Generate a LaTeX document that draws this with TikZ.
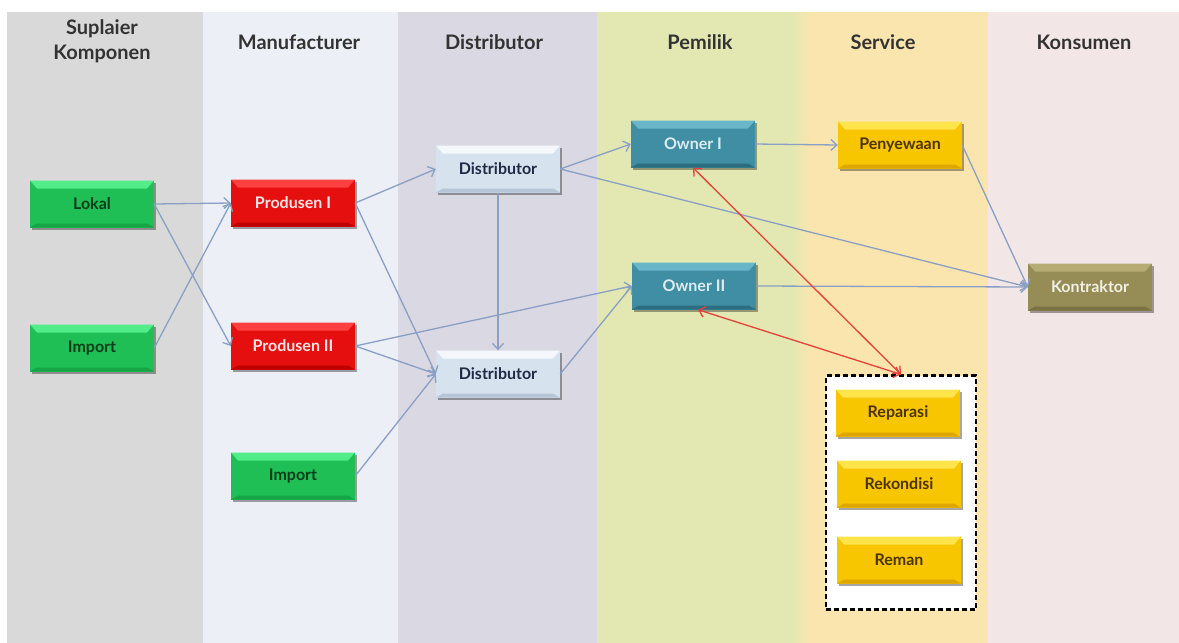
\documentclass[tikz,border=0pt]{standalone}
\usepackage{fontspec}
\setmainfont{Lato}
\usetikzlibrary{arrows.meta,shadows,calc}
\definecolor{colA}{HTML}{D9D9D9}
\definecolor{colB}{HTML}{ECEFF6}
\definecolor{colC}{HTML}{DAD8E2}
\definecolor{colD}{HTML}{E3E8B2}
\definecolor{colE}{HTML}{FBE5AE}
\definecolor{colF}{HTML}{F2E6E6}
\definecolor{hdr}{HTML}{333333}
\definecolor{gM}{HTML}{1FBF55}\definecolor{gT}{HTML}{52EC88}\definecolor{gB}{HTML}{16A447}\definecolor{gX}{HTML}{0B3D1A}
\definecolor{rM}{HTML}{E60F0F}\definecolor{rT}{HTML}{FF4040}\definecolor{rB}{HTML}{BF0000}\definecolor{rX}{HTML}{FFE4E4}
\definecolor{dM}{HTML}{D6E2EE}\definecolor{dT}{HTML}{F4F8FC}\definecolor{dB}{HTML}{B6C6D8}\definecolor{dX}{HTML}{1F2B45}
\definecolor{oM}{HTML}{3F8EA3}\definecolor{oT}{HTML}{6AB6C9}\definecolor{oB}{HTML}{2C6E80}\definecolor{oX}{HTML}{DCECF0}
\definecolor{yM}{HTML}{F7C600}\definecolor{yT}{HTML}{FFE44C}\definecolor{yB}{HTML}{DDA600}\definecolor{yX}{HTML}{4D3300}
\definecolor{kM}{HTML}{958C56}\definecolor{kT}{HTML}{B6AC74}\definecolor{kB}{HTML}{7A7144}\definecolor{kX}{HTML}{F2F0E4}
\definecolor{lineC}{HTML}{8A9FC4}
\definecolor{redC}{HTML}{E5413A}
\tikzset{
  box/.style={minimum width=124pt, minimum height=47pt, inner sep=0pt,
    font=\fontsize{16}{18}\selectfont\bfseries,
    drop shadow={shadow xshift=1.5pt, shadow yshift=-2.5pt, opacity=0.35, fill=black}},
  bevel/.style n args={4}{box, fill=#1, text=#4, path picture={
    \fill[#2] (path picture bounding box.north west) -- (path picture bounding box.north east)
      -- ([shift={(-7pt,-8pt)}]path picture bounding box.north east)
      -- ([shift={(7pt,-8pt)}]path picture bounding box.north west) -- cycle;
    \fill[#3] (path picture bounding box.south west) -- (path picture bounding box.south east)
      -- ([shift={(-7pt,4pt)}]path picture bounding box.south east)
      -- ([shift={(7pt,4pt)}]path picture bounding box.south west) -- cycle;
  }},
  gbox/.style={bevel={gM}{gT}{gB}{gX}},
  rbox/.style={bevel={rM}{rT}{rB}{rX}},
  dbox/.style={bevel={dM}{dT}{dB}{dX}},
  obox/.style={bevel={oM}{oT}{oB}{oX}},
  ybox/.style={bevel={yM}{yT}{yB}{yX}},
  kbox/.style={bevel={kM}{kT}{kB}{kX}},
  header/.style={text=hdr, font=\fontsize{20}{25}\selectfont\bfseries, align=center},
  conn/.style={draw=lineC, line width=1.3pt, -{Straight Barb[length=6pt,width=11pt]}},
  redconn/.style={draw=redC, line width=1.3pt, {Straight Barb[length=6pt,width=11pt]}-{Straight Barb[length=6pt,width=11pt]}},
}
\begin{document}
\begin{tikzpicture}[x=1pt,y=-1pt]
\useasboundingbox (0,0) rectangle (1179,643);
\fill[white] (0,0) rectangle (1179,643);
% columns
\fill[colA] (7,12) rectangle (203,643);
\fill[colB] (203,12) rectangle (398,643);
\fill[colC] (398,12) rectangle (597,643);
\fill[colD] (597,12) rectangle (796,643);
\fill[colE] (796,12) rectangle (988,643);
\shade[left color=colD, right color=colE] (792,12) rectangle (812,643);
\fill[colF] (988,12) rectangle (1179,643);
% headers
\node[header] (h1) at (102,41) {Suplaier\\Komponen};
\node[header] (h2) at (299,42) {Manufacturer};
\node[header] (h3) at (494,42) {Distributor};
\node[header] (h4) at (700,42) {Pemilik};
\node[header] (h5) at (883,42) {Service};
\node[header] (h6) at (1084,42) {Konsumen};
% service group
\node[draw=black, line width=2.2pt, dash pattern=on 5pt off 3pt, fill=white,
      minimum width=150pt, minimum height=234pt, inner sep=0pt] (svc) at (901,492.5) {};
% boxes
\node[gbox] (lokal) at (92,204) {Lokal};
\node[gbox] (imp1) at (92,348) {Import};
\node[rbox] (p1) at (293,203) {Produsen I};
\node[rbox] (p2) at (293,346) {Produsen II};
\node[gbox] (imp2) at (293,476) {Import};
\node[dbox] (d1) at (498,169) {Distributor};
\node[dbox] (d2) at (498,374) {Distributor};
\node[obox] (o1) at (693,144) {Owner I};
\node[obox] (o2) at (694,286) {Owner II};
\node[ybox] (sewa) at (900,145) {Penyewaan};
\node[kbox] (kon) at (1090,287) {Kontraktor};
\node[ybox] (rep) at (898,413) {Reparasi};
\node[ybox] (rek) at (899,484) {Rekondisi};
\node[ybox] (rem) at (899,560) {Reman};
% connectors
\draw[conn] (lokal.east) -- (p1.west);
\draw[conn] (lokal.east) -- (p2.west);
\draw[conn] (imp1.east) -- (p1.west);
\draw[conn] (p1.east) -- (d1.west);
\draw[conn] (p1.east) -- (d2.west);
\draw[conn] (p2.east) -- (d2.west);
\draw[conn] (p2.east) -- (o2.west);
\draw[conn] (imp2.east) -- (d2.west);
\draw[conn] (d1.south) -- (d2.north);
\draw[conn] (d1.east) -- (o1.west);
\draw[conn] (d1.east) -- (kon.west);
\draw[conn] (d2.east) -- (o2.west);
\draw[conn] (o1.east) -- (sewa.west);
\draw[conn] (o2.east) -- (kon.west);
\draw[conn] (sewa.east) -- (kon.west);
\draw[redconn] (o1.south) -- (svc.north);
\draw[redconn] ([xshift=4pt]o2.south) -- (svc.north);
\end{tikzpicture}
\end{document}
